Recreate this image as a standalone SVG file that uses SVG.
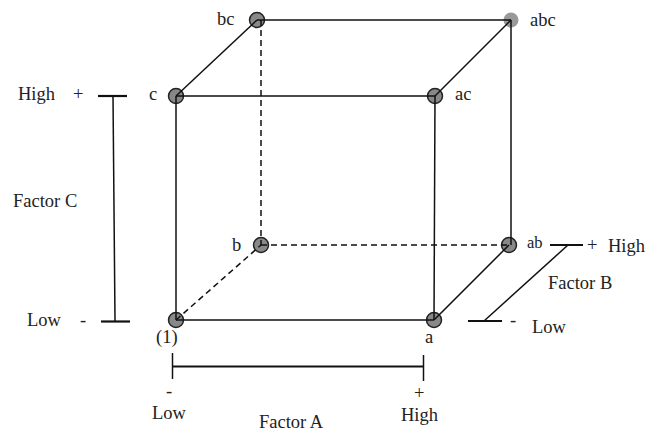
<svg xmlns="http://www.w3.org/2000/svg" width="656" height="431" viewBox="0 0 656 431">
<style>
.t{font-family:'Liberation Serif','Times New Roman',Times,serif;font-size:18.5px;fill:#222}
.n{fill:#888;stroke:#222;stroke-width:1.5}
.e{stroke:#111;stroke-width:1.5;fill:none}
.d{stroke:#111;stroke-width:1.5;fill:none;stroke-dasharray:6,4}
.bar{stroke:#111;stroke-width:2.2;fill:none}
.ax{stroke:#111;stroke-width:1.5;fill:none}
</style>
<rect width="656" height="431" fill="#fff"/>
<g class="t" font-family="Liberation Serif, Times New Roman, serif">
<g id="node-1"><circle class="n" cx="176" cy="320" r="7.5"/><text x="156" y="343">(1)</text></g>
<g id="node-a"><circle class="n" cx="434" cy="320" r="7.5"/><text x="425" y="343">a</text></g>
<g id="node-b"><circle class="n" cx="261" cy="245" r="7.5"/><text x="232" y="251">b</text></g>
<g id="node-ab"><circle class="n" cx="509" cy="245" r="7.5"/><text x="527" y="248" style="font-size:16.5px">ab</text></g>
<g id="node-c"><circle class="n" cx="176" cy="96" r="7.5"/><text x="149" y="100">c</text></g>
<g id="node-ac"><circle class="n" cx="435" cy="96" r="7.5"/><text x="455" y="100">ac</text></g>
<g id="node-bc"><circle class="n" cx="257" cy="20" r="7.5"/><text x="217" y="25">bc</text></g>
<g id="node-abc"><circle cx="511" cy="20" r="7.5" fill="#999"/><text x="530" y="26">abc</text></g>
<g id="connectors">
<line class="e" x1="176" y1="96" x2="435" y2="96"/>
<line class="e" x1="176" y1="96" x2="176" y2="320"/>
<line class="e" x1="176" y1="320" x2="434" y2="320"/>
<line class="e" x1="435" y1="96" x2="434" y2="320"/>
<line class="e" x1="257" y1="20" x2="511" y2="20"/>
<line class="e" x1="511" y1="20" x2="511" y2="245"/>
<line class="e" x1="176" y1="96" x2="257" y2="20"/>
<line class="e" x1="435" y1="96" x2="511" y2="20"/>
<line class="e" x1="434" y1="320" x2="509" y2="245"/>
<line class="d" x1="176" y1="320" x2="261" y2="245"/>
<line class="d" x1="261" y1="20" x2="261" y2="245"/>
<line class="d" x1="261" y1="245" x2="509" y2="245"/>
</g>
<g id="factor-c">
<line class="bar" x1="98" y1="96" x2="127" y2="96"/>
<line class="ax" x1="113" y1="96" x2="115" y2="321"/>
<line class="bar" x1="101" y1="321.5" x2="130" y2="321.5"/>
<text x="18" y="100">High</text><text x="73" y="100">+</text>
<text x="13" y="207">Factor C</text>
<text x="27" y="326">Low</text><text x="80" y="326">-</text>
</g>
<g id="factor-a">
<line class="ax" x1="172.5" y1="353" x2="172.5" y2="379"/>
<line class="bar" x1="173" y1="366.5" x2="423" y2="366.5"/>
<line class="ax" x1="423.5" y1="355" x2="423.5" y2="381"/>
<text x="166" y="397">-</text><text x="152" y="419">Low</text>
<text x="414" y="399">+</text><text x="401" y="421">High</text>
<text x="259" y="428">Factor A</text>
</g>
<g id="factor-b">
<line class="bar" x1="550" y1="245" x2="583" y2="245"/>
<line class="ax" x1="568" y1="245" x2="484" y2="321"/>
<line class="bar" x1="468" y1="321" x2="502" y2="321"/>
<text x="587" y="251">+</text><text x="608" y="252">High</text>
<text x="548" y="289">Factor B</text>
<text x="510" y="326">-</text><text x="532" y="333">Low</text>
</g>
</g>
</svg>
